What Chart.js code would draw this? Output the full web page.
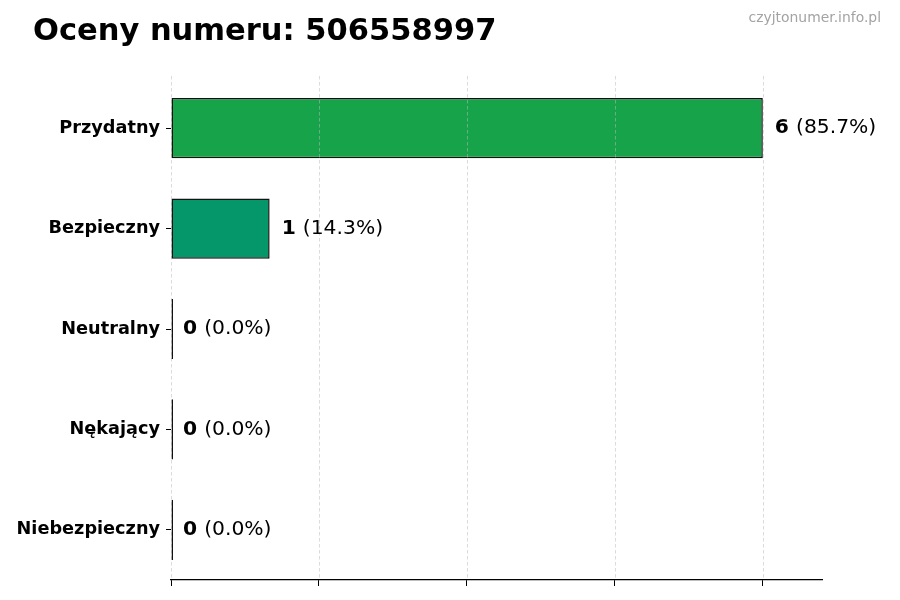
<!DOCTYPE html>
<html>
<head>
<meta charset="utf-8">
<script src="https://cdn.jsdelivr.net/npm/chart.js@4"></script>
<style>
  html, body { margin: 0; padding: 0; background: #ffffff; }
  canvas { display: block; }
</style>
</head>
<body>
<canvas id="chart" width="900" height="600"></canvas>
<script>
// values
const categories = ['Przydatny', 'Bezpieczny', 'Neutralny', 'Nękający', 'Niebezpieczny']
const counts = [6, 1, 0, 0, 0]
const percentLabels = ['85.7%', '14.3%', '0.0%', '0.0%', '0.0%']
const barColors = ['#16a34a', '#059669', '#6b7280', '#f97316', '#dc2626']
const xTickValues = [0, 1.5, 3, 4.5, 6]

const TITLE = 'Oceny numeru: 506558997'
const WATERMARK = 'czyjtonumer.info.pl'
const FONT = '"DejaVu Sans", "Liberation Sans", sans-serif'

// header text drawn straight onto the canvas
const headerPlugin = {
  id: 'header',
  afterDraw(chart) {
    const { ctx } = chart
    ctx.save()
    ctx.textBaseline = 'alphabetic'
    ctx.fillStyle = '#000000'
    ctx.textAlign = 'left'
    ctx.font = `bold 30.5px ${FONT}`
    ctx.fillText(TITLE, 33, 40)
    ctx.fillStyle = '#a3a3a3'
    ctx.textAlign = 'right'
    ctx.font = `13.9px ${FONT}`
    ctx.fillText(WATERMARK, 881, 22)
    ctx.restore()
  },
}

/**
 * @param {any} chart
 * @param {number[]} values
 */
function drawDashedGrid(chart, values) {
  const { ctx, chartArea } = chart
  const xScale = chart.scales.x
  ctx.save()
  ctx.strokeStyle = 'rgba(185, 185, 185, 0.65)'
  ctx.lineWidth = 0.8
  ctx.setLineDash([3.5, 2.5])
  for (const v of values) {
    const px = Math.round(xScale.getPixelForValue(v)) + 0.5
    ctx.beginPath()
    ctx.moveTo(px, chartArea.top - 2)
    ctx.lineTo(px, chartArea.bottom)
    ctx.stroke()
  }
  ctx.restore()
}

// the zero line goes under the bars, the rest sit on top of them
const gridPlugin = {
  id: 'dashedGrid',
  beforeDatasetsDraw(chart) {
    drawDashedGrid(chart, xTickValues.filter((v) => v === 0))
  },
  afterDatasetsDraw(chart) {
    drawDashedGrid(chart, xTickValues.filter((v) => v !== 0))
  },
}

// "6 (85.7%)" labels at the end of each bar
const valueLabelPlugin = {
  id: 'valueLabels',
  afterDatasetsDraw(chart) {
    const { ctx } = chart
    const meta = chart.getDatasetMeta(0)
    ctx.save()
    ctx.textBaseline = 'middle'
    ctx.textAlign = 'left'
    ctx.fillStyle = '#000000'
    meta.data.forEach((bar, i) => {
      const x0 = chart.scales.x.getPixelForValue(counts[i]) + 12
      const y = bar.y
      ctx.font = `bold 20.3px ${FONT}`
      const num = String(counts[i])
      ctx.fillText(num, x0, y)
      const w = ctx.measureText(num + ' ').width
      ctx.font = `20.3px ${FONT}`
      ctx.fillText(`(${percentLabels[i]})`, x0 + w, y)
    })
    ctx.restore()
  },
}

new Chart(document.getElementById('chart'), {
  type: 'bar',
  data: {
    labels: categories,
    datasets: [{
      data: counts,
      backgroundColor: barColors,
      borderColor: '#111111',
      borderWidth: 1.5,
      borderSkipped: false,
      minBarLength: 2,
      barPercentage: 0.6,
      categoryPercentage: 1,
    }],
  },
  options: {
    indexAxis: 'y',
    responsive: false,
    animation: false,
    devicePixelRatio: 1,
    layout: { padding: { top: 78, right: 78, bottom: 0, left: 0 } },
    scales: {
      x: {
        min: 0,
        max: 6.6,
        afterBuildTicks: (scale) => { scale.ticks = xTickValues.map((value) => ({ value })) },
        afterFit: (scale) => { scale.height = 20 },
        ticks: { display: false },
        grid: {
          drawOnChartArea: false,
          drawTicks: true,
          tickLength: 6,
          tickColor: '#000000',
          tickWidth: 1,
        },
        border: { display: true, color: '#000000', width: 1.2 },
      },
      y: {
        afterFit: (scale) => { scale.width = 171 },
        ticks: {
          color: '#000000',
          padding: 6,
          font: { family: FONT, size: 17.7, weight: 'bold' },
        },
        grid: {
          offset: false,
          drawOnChartArea: false,
          drawTicks: true,
          tickLength: 5,
          tickColor: '#000000',
          tickWidth: 1,
        },
        border: { display: false },
      },
    },
    plugins: {
      legend: { display: false },
      tooltip: { enabled: false },
      title: { display: false },
    },
  },
  plugins: [gridPlugin, valueLabelPlugin, headerPlugin],
})
</script>
</body>
</html>
